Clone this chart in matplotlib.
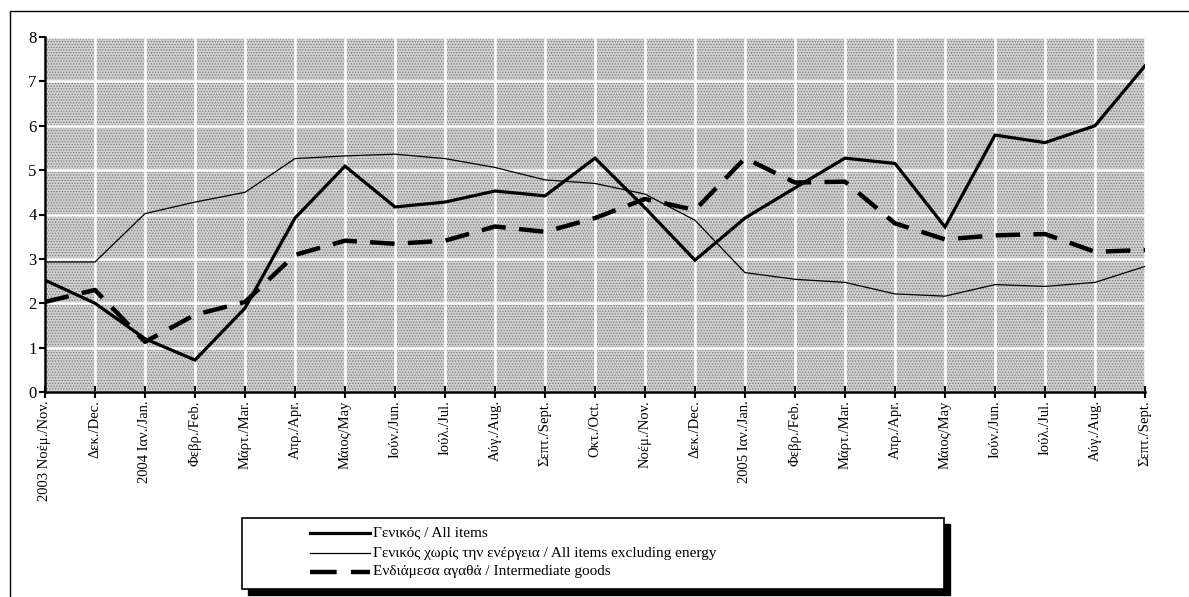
import matplotlib
matplotlib.use("Agg")
import matplotlib.pyplot as plt
from matplotlib.lines import Line2D
from matplotlib.patches import Rectangle

plt.rcParams["font.family"] = ["Liberation Serif", "DejaVu Serif"]
plt.rcParams["hatch.linewidth"] = 0.6
plt.rcParams["hatch.color"] = "#7a7a7a"

months = ["2003 Νοέμ./Nov.", "Δεκ./Dec.", "2004 Ιαν./Jan.", "Φεβρ./Feb.", "Μάρτ./Mar.",
          "Απρ./Apr.", "Μάιος/May", "Ιούν./Jun.", "Ιούλ./Jul.", "Αύγ./Aug.",
          "Σεπτ./Sept.", "Οκτ./Oct.", "Νοέμ./Nov.", "Δεκ./Dec.", "2005 Ιαν./Jan.",
          "Φεβρ./Feb.", "Μάρτ./Mar.", "Απρ./Apr.", "Μάιος/May", "Ιούν./Jun.",
          "Ιούλ./Jul.", "Αύγ./Aug.", "Σεπτ./Sept."]
all_items = [2.52, 2.0, 1.2, 0.72, 1.89, 3.92, 5.09, 4.17, 4.28, 4.53, 4.42, 5.27,
             4.15, 2.97, 3.92, 4.6, 5.27, 5.15, 3.72, 5.79, 5.62, 6.0, 7.35]
excl_energy = [2.93, 2.93, 4.02, 4.28, 4.5, 5.26, 5.32, 5.36, 5.26, 5.06, 4.78, 4.7,
               4.46, 3.87, 2.69, 2.54, 2.47, 2.21, 2.16, 2.42, 2.38, 2.47, 2.83]
intermediate = [2.03, 2.3, 1.13, 1.74, 2.03, 3.09, 3.41, 3.34, 3.41, 3.73, 3.61, 3.92,
                4.35, 4.1, 5.27, 4.72, 4.74, 3.8, 3.44, 3.53, 3.56, 3.16, 3.2]

labels = ["Γενικός / All items",
          "Γενικός χωρίς την ενέργεια / All items excluding energy",
          "Ενδιάμεσα αγαθά / Intermediate goods"]

fig = plt.figure(figsize=(11.89, 5.97), dpi=100)
ax = fig.add_axes([45 / 1189, 1 - 392 / 597, 1100 / 1189, 355 / 597])

# outer frame (runs off the right/bottom edge like the original)
fig.patches.append(Rectangle((10 / 1189, -0.1), 1.2, 1 - 11 / 597 + 0.1,
                             transform=fig.transFigure, fill=False,
                             edgecolor="black", linewidth=1.0))

x = list(range(len(months)))
# dotted grey plot area
ax.set_facecolor("#cfcfcf")
ax.add_patch(Rectangle((0, 0), 1, 1, transform=ax.transAxes, facecolor="none",
                       hatch="......", edgecolor="#7a7a7a", lw=0, zorder=0.1))
ax.plot(x, all_items, color="black", lw=2.3, solid_joinstyle="miter", zorder=3)
ax.plot(x, excl_energy, color="black", lw=0.9, zorder=3)
ax.plot(x, intermediate, color="black", lw=3.2, dashes=(5.5, 3), zorder=3)

ax.set_xlim(0, 22)
ax.set_ylim(0, 8)
ax.set_yticks(range(0, 9))
ax.set_xticks(x)
ax.set_xticklabels(months, rotation=90, fontsize=10.5, va="top", ha="center")
ax.tick_params(axis="y", labelsize=12, direction="out", length=4, width=1.5, pad=2)
ax.tick_params(axis="x", direction="inout", length=8, width=1.5, pad=2)
ax.grid(True, color="white", lw=1.8, zorder=0.5)
ax.set_axisbelow(True)
for s in ["top", "right"]:
    ax.spines[s].set_visible(False)
for s in ["left", "bottom"]:
    ax.spines[s].set_linewidth(1.8)

# legend box with drop shadow
lx0, ly0, lw_, lh_ = 242 / 1189, 1 - 589 / 597, 702 / 1189, 71 / 597
fig.patches.append(Rectangle((lx0 + 6 / 1189, ly0 - 6 / 597), lw_, lh_,
                             transform=fig.transFigure, facecolor="black",
                             edgecolor="black", zorder=1))
fig.patches.append(Rectangle((lx0, ly0), lw_, lh_, transform=fig.transFigure,
                             facecolor="white", edgecolor="black", lw=1.2, zorder=2))
styles = [dict(lw=2.3), dict(lw=0.9), dict(lw=3.2, dashes=(6, 3.2))]
ys = [533, 553, 572]
for lab, st, yy in zip(labels, styles, ys):
    yf = 1 - yy / 597
    fig.add_artist(Line2D([310 / 1189, 370 / 1189], [yf, yf], color="black",
                          transform=fig.transFigure, zorder=3, **st))
    fig.text(373 / 1189, yf, lab, fontsize=11, va="center", ha="left", zorder=3)

fig.savefig("out.png", dpi=100)
